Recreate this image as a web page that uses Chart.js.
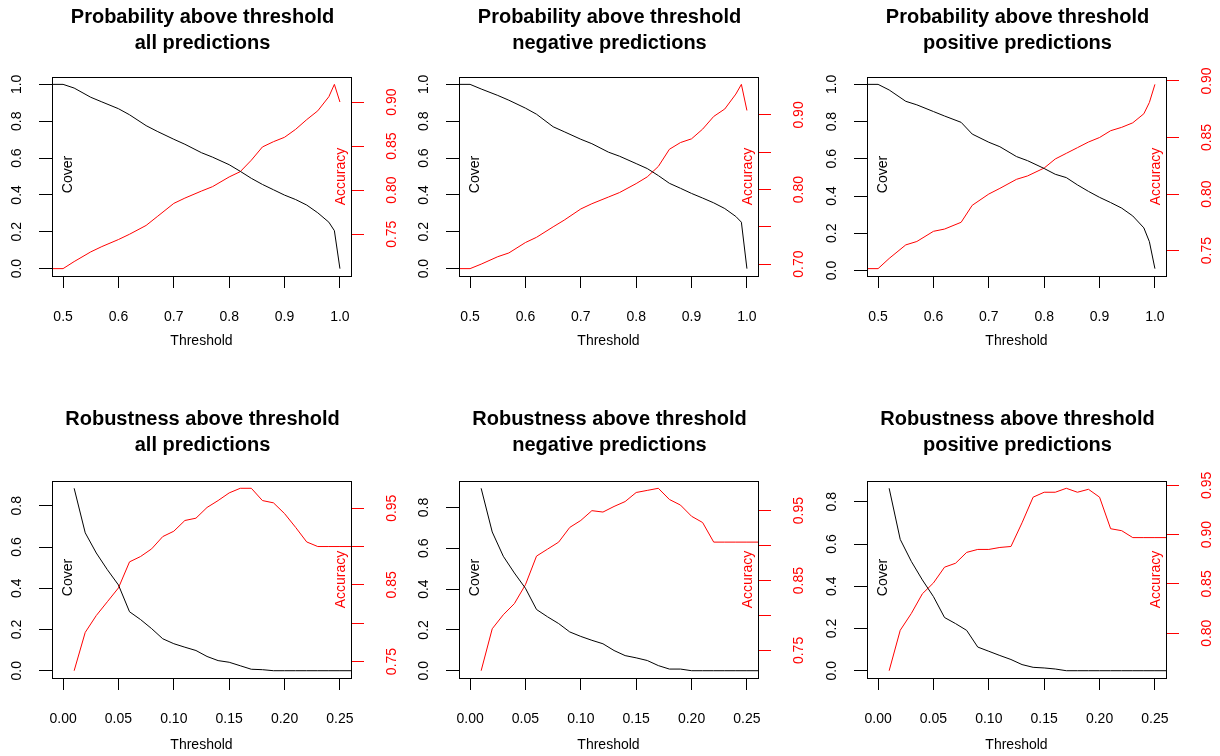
<!DOCTYPE html>
<html>
<head>
<meta charset="utf-8">
<script src="https://cdn.jsdelivr.net/npm/chart.js@4/dist/chart.umd.min.js"></script>
<style>
  body { margin: 0; background: #fff; width: 1220px; height: 756px; position: relative; overflow: hidden; }
  canvas { position: absolute; }
</style>
</head>
<body>
<canvas id="p1" width="405" height="352" style="left:0px;top:0px"></canvas>
<canvas id="p2" width="405" height="352" style="left:407px;top:0px"></canvas>
<canvas id="p3" width="405" height="352" style="left:815px;top:0px"></canvas>
<canvas id="p4" width="405" height="352" style="left:0px;top:404px"></canvas>
<canvas id="p5" width="405" height="352" style="left:407px;top:404px"></canvas>
<canvas id="p6" width="405" height="352" style="left:815px;top:404px"></canvas>
<script>
// thresholds (x values)
const probThresh = [0.48, 0.5, 0.52, 0.55, 0.57, 0.6, 0.62, 0.65, 0.67, 0.7, 0.72, 0.75, 0.77,
  0.8, 0.82, 0.84, 0.86, 0.88, 0.9, 0.92, 0.94, 0.96, 0.98, 0.99, 1.0];
const robThresh = [0.01, 0.02, 0.03, 0.04, 0.05, 0.06, 0.07, 0.08, 0.09, 0.1, 0.11, 0.12, 0.13,
  0.14, 0.15, 0.16, 0.17, 0.18, 0.19, 0.2, 0.21, 0.22, 0.23, 0.24, 0.25, 0.26];

// probability above threshold
const coverProbAll = [1.0, 1.0, 0.98, 0.93, 0.905, 0.868, 0.835, 0.776, 0.745, 0.702, 0.675, 0.629, 0.605,
  0.564, 0.528, 0.49, 0.457, 0.428, 0.399, 0.375, 0.345, 0.303, 0.252, 0.206, 0.0];
const accProbAll = [0.711, 0.711, 0.719, 0.73, 0.736, 0.744, 0.75, 0.76, 0.77, 0.785, 0.791, 0.799, 0.804,
  0.815, 0.821, 0.834, 0.849, 0.855, 0.86, 0.869, 0.88, 0.89, 0.906, 0.92, 0.9];
const coverProbNeg = [1.0, 1.0, 0.975, 0.94, 0.914, 0.871, 0.838, 0.77, 0.743, 0.702, 0.678, 0.632, 0.61,
  0.57, 0.543, 0.505, 0.463, 0.436, 0.408, 0.383, 0.357, 0.326, 0.283, 0.252, 0.0];
const accProbNeg = [0.694, 0.694, 0.7, 0.71, 0.715, 0.729, 0.736, 0.75, 0.759, 0.774, 0.781, 0.79, 0.796,
  0.808, 0.817, 0.831, 0.854, 0.863, 0.868, 0.881, 0.898, 0.908, 0.928, 0.941, 0.906];
const coverProbPos = [1.0, 1.0, 0.97, 0.909, 0.89, 0.854, 0.83, 0.796, 0.733, 0.689, 0.665, 0.612, 0.59,
  0.548, 0.517, 0.499, 0.46, 0.425, 0.393, 0.365, 0.335, 0.293, 0.229, 0.155, 0.01];
const accProbPos = [0.734, 0.734, 0.743, 0.755, 0.758, 0.767, 0.769, 0.775, 0.79, 0.8, 0.805, 0.813, 0.816,
  0.823, 0.831, 0.836, 0.841, 0.846, 0.85, 0.856, 0.859, 0.863, 0.871, 0.881, 0.897];

// robustness above threshold
const coverRobAll = [0.885, 0.669, 0.571, 0.49, 0.416, 0.286, 0.248, 0.204, 0.155, 0.131, 0.114, 0.098, 0.069,
  0.049, 0.041, 0.024, 0.007, 0.005, 0, 0, 0, 0, 0, 0, 0, 0];
const accRobAll = [0.738, 0.788, 0.81, 0.828, 0.846, 0.88, 0.887, 0.897, 0.913, 0.92, 0.934, 0.937, 0.951,
  0.96, 0.97, 0.976, 0.976, 0.96, 0.957, 0.943, 0.925, 0.906, 0.9, 0.9, 0.9, 0.9];
const coverRobNeg = [0.894, 0.68, 0.561, 0.479, 0.404, 0.3, 0.264, 0.231, 0.19, 0.168, 0.149, 0.132, 0.099,
  0.074, 0.063, 0.05, 0.025, 0.008, 0.008, 0, 0, 0, 0, 0, 0, 0];
const accRobNeg = [0.721, 0.781, 0.801, 0.817, 0.844, 0.885, 0.895, 0.905, 0.926, 0.936, 0.95, 0.948, 0.956,
  0.963, 0.976, 0.979, 0.982, 0.966, 0.958, 0.942, 0.933, 0.905, 0.905, 0.905, 0.905, 0.905];
const coverRobPos = [0.864, 0.622, 0.518, 0.43, 0.351, 0.252, 0.223, 0.191, 0.112, 0.092, 0.072, 0.053, 0.029,
  0.016, 0.013, 0.008, 0, 0, 0, 0, 0, 0, 0, 0, 0, 0];
const accRobPos = [0.762, 0.803, 0.82, 0.84, 0.851, 0.867, 0.871, 0.882, 0.885, 0.885, 0.887, 0.888, 0.912,
  0.938, 0.943, 0.943, 0.947, 0.943, 0.946, 0.938, 0.906, 0.904, 0.897, 0.897, 0.897, 0.897];

// tick values
const probTicks = [0.5, 0.6, 0.7, 0.8, 0.9, 1.0];
const robTicks = [0, 0.05, 0.1, 0.15, 0.2, 0.25];
const coverTicksProb = [0, 0.2, 0.4, 0.6, 0.8, 1.0];
const coverTicksRob = [0, 0.2, 0.4, 0.6, 0.8];
const accTicksProbAll = [0.75, 0.8, 0.85, 0.9];
const accTicksProbNeg = [0.7, 0.75, 0.8, 0.85, 0.9];
const accLabelsProbNeg = [0.7, 0.8, 0.9];
const accTicksProbPos = [0.75, 0.8, 0.85, 0.9];
const accTicksRob = [0.75, 0.8, 0.85, 0.9, 0.95];
const accLabelsRob = [0.75, 0.85, 0.95];
const accTicksRobPos = [0.8, 0.85, 0.9, 0.95];

const FONT = '"Liberation Sans", Arial, sans-serif';
const RED = '#ff0000';

// R style: 4% extension of the data range
function ext(arr) {
  const lo = Math.min(...arr), hi = Math.max(...arr), d = (hi - lo) * 0.04;
  return [lo - d, hi + d];
}

function vtext(ctx, s, x, y, color) {
  ctx.save();
  ctx.translate(x, y);
  ctx.rotate(-Math.PI / 2);
  ctx.fillStyle = color;
  ctx.textAlign = 'center';
  ctx.textBaseline = 'middle';
  ctx.fillText(s, 0, 0);
  ctx.restore();
}

// box, rotated y tick labels and inner axis names
const rAxes = {
  id: 'rAxes',
  afterDraw(chart, args, o) {
    const ctx = chart.ctx, a = chart.chartArea;
    ctx.save();
    ctx.strokeStyle = '#000';
    ctx.lineWidth = 1;
    ctx.strokeRect(Math.round(a.left) + 0.5, Math.round(a.top) + 0.5,
      Math.round(a.right - a.left), Math.round(a.bottom - a.top));
    ctx.font = '14px ' + FONT;
    const y = chart.scales.y, y2 = chart.scales.y2;
    o.left.forEach(v => vtext(ctx, v.toFixed(1), a.left - 35, y.getPixelForValue(v), '#000'));
    o.right.forEach(v => vtext(ctx, v.toFixed(2), a.right + 41, y2.getPixelForValue(v), RED));
    const mid = (a.top + a.bottom) / 2;
    vtext(ctx, 'Cover', a.left + 16, mid - 2, '#000');
    vtext(ctx, 'Accuracy', a.right - 10, mid, RED);
    ctx.restore();
  }
};

function panel(id, title, xs, cover, acc, xTicks, xDigits, yTicks, accTicks, accLabels, top) {
  const [xmin, xmax] = ext(xTicks);
  const [ymin, ymax] = ext(cover);
  const [amin, amax] = ext(acc);
  const tickSet = vals => s => { s.ticks = vals.map(v => ({ value: v })); };
  new Chart(document.getElementById(id), {
    type: 'line',
    data: {
      datasets: [
        { data: xs.map((v, i) => ({ x: v, y: cover[i] })), yAxisID: 'y', borderColor: '#000',
          borderWidth: 1, pointRadius: 0, tension: 0 },
        { data: xs.map((v, i) => ({ x: v, y: acc[i] })), yAxisID: 'y2', borderColor: RED,
          borderWidth: 1, pointRadius: 0, tension: 0 }
      ]
    },
    options: {
      responsive: false,
      animation: false,
      devicePixelRatio: 1,
      layout: { padding: 0 },
      plugins: {
        legend: { display: false },
        tooltip: { enabled: false },
        title: {
          display: true, text: title, color: '#000',
          font: { family: FONT, size: 20, weight: 'bold', lineHeight: 1.275 },
          padding: top ? { top: 5, bottom: 21 } : { top: 3, bottom: 23 }
        },
        rAxes: { left: yTicks, right: accLabels }
      },
      scales: {
        x: {
          type: 'linear', min: xmin, max: xmax,
          afterBuildTicks: tickSet(xTicks),
          afterFit: s => { s.height = top ? 76 : 78; },
          grid: { drawOnChartArea: false, tickLength: 12, color: '#000', tickColor: '#000' },
          border: { display: false },
          ticks: { font: { family: FONT, size: 14 }, color: '#000', padding: 21, maxRotation: 0,
            autoSkip: false, callback: v => v.toFixed(xDigits) },
          title: { display: true, text: 'Threshold', color: '#000', font: { family: FONT, size: 14 },
            padding: { top: 0, bottom: 2 } }
        },
        y: {
          position: 'left', min: ymin, max: ymax,
          afterBuildTicks: tickSet(yTicks),
          afterFit: s => { s.width = 52; },
          grid: { drawOnChartArea: false, tickLength: 13, color: '#000', tickColor: '#000' },
          border: { display: false },
          ticks: { display: false }
        },
        y2: {
          position: 'right', min: amin, max: amax,
          afterBuildTicks: tickSet(accTicks),
          afterFit: s => { s.width = 54; },
          grid: { drawOnChartArea: false, tickLength: 13, color: RED, tickColor: RED },
          border: { display: false },
          ticks: { display: false }
        }
      }
    },
    plugins: [rAxes]
  });
}

panel('p1', ['Probability above threshold', 'all predictions'], probThresh, coverProbAll, accProbAll,
  probTicks, 1, coverTicksProb, accTicksProbAll, accTicksProbAll, true);
panel('p2', ['Probability above threshold', 'negative predictions'], probThresh, coverProbNeg, accProbNeg,
  probTicks, 1, coverTicksProb, accTicksProbNeg, accLabelsProbNeg, true);
panel('p3', ['Probability above threshold', 'positive predictions'], probThresh, coverProbPos, accProbPos,
  probTicks, 1, coverTicksProb, accTicksProbPos, accTicksProbPos, true);
panel('p4', ['Robustness above threshold', 'all predictions'], robThresh, coverRobAll, accRobAll,
  robTicks, 2, coverTicksRob, accTicksRob, accLabelsRob, false);
panel('p5', ['Robustness above threshold', 'negative predictions'], robThresh, coverRobNeg, accRobNeg,
  robTicks, 2, coverTicksRob, accTicksRob, accLabelsRob, false);
panel('p6', ['Robustness above threshold', 'positive predictions'], robThresh, coverRobPos, accRobPos,
  robTicks, 2, coverTicksRob, accTicksRobPos, accTicksRobPos, false);
</script>
</body>
</html>
